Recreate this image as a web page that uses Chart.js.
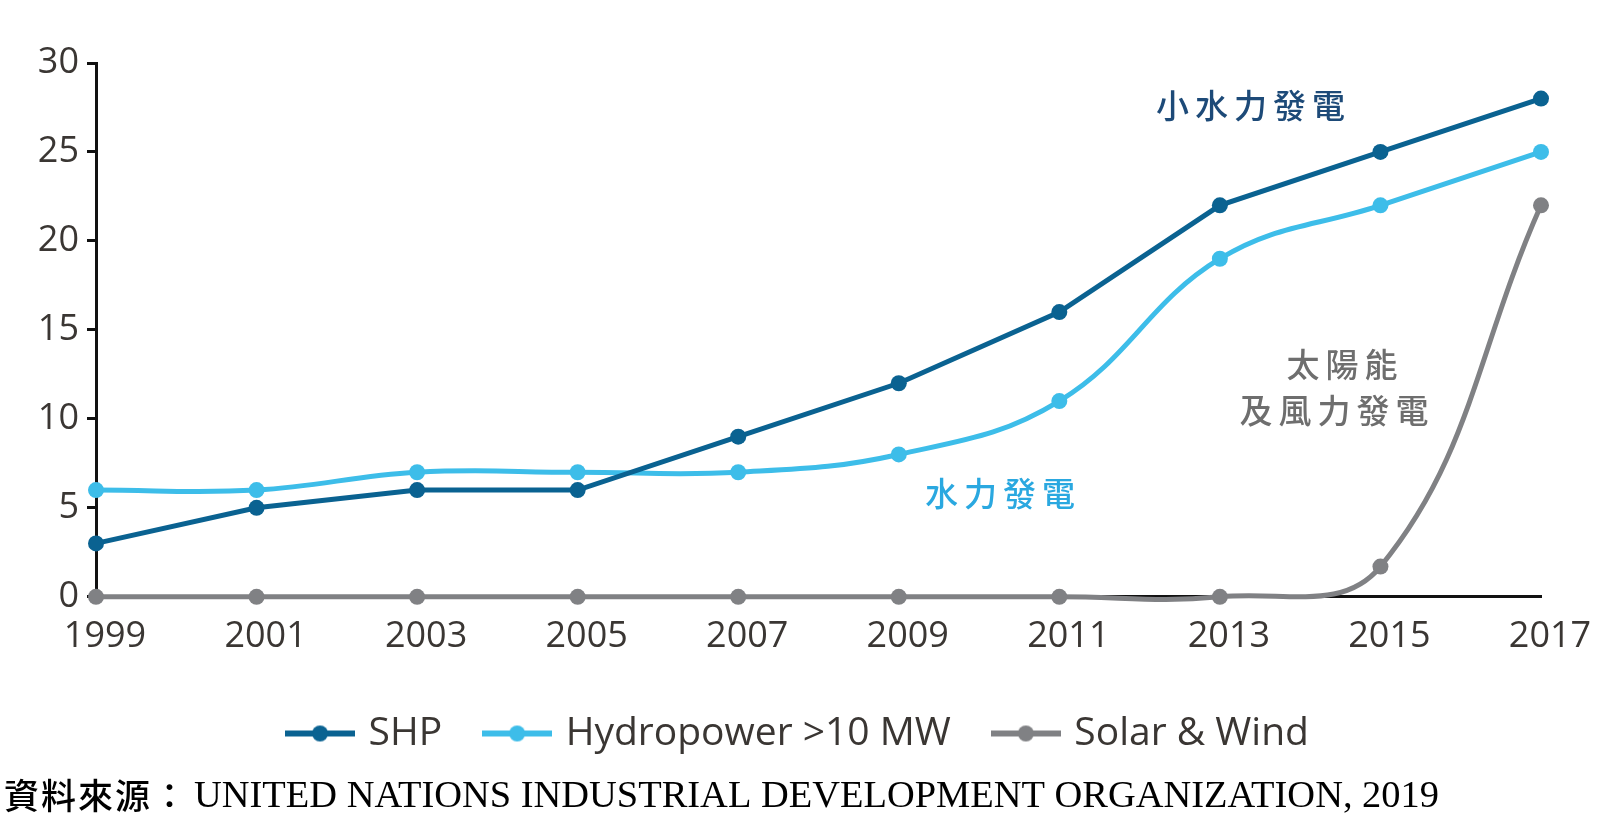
<!DOCTYPE html>
<html>
<head>
<meta charset="utf-8">
<script src="https://cdn.jsdelivr.net/npm/chart.js@4.4.1/dist/chart.umd.min.js"></script>
<style>
  html, body { margin: 0; padding: 0; background: #fff; }
  #wrap { width: 1600px; height: 832px; }
</style>
</head>
<body>
<div id="wrap"><canvas id="chart"></canvas></div>
<script>
const years = ["1999", "2001", "2003", "2005", "2007", "2009", "2011", "2013", "2015", "2017"];
const shp = [3, 5, 6, 6, 9, 12, 16, 22, 25, 28];
const hydro = [6, 6, 7, 7, 7, 8, 11, 19, 22, 25];
const solarWind = [0, 0, 0, 0, 0, 0, 0, 0, 1.7, 22];
const seriesNames = ["SHP", "Hydropower >10 MW", "Solar & Wind"];
const colors = ["#0a6291", "#3dbde9", "#808184"];

const tickColor = "#3a3633";
const sansFont = "'Open Sans', 'Noto Sans', sans-serif";
const cjkFont = "'Noto Sans CJK TC', sans-serif";

// legend sample: line with a dot in the middle
function legendSample(color) {
  const c = document.createElement("canvas");
  c.width = 70;
  c.height = 20;
  const g = c.getContext("2d");
  g.strokeStyle = color;
  g.lineWidth = 6;
  g.beginPath();
  g.moveTo(0, 10);
  g.lineTo(70, 10);
  g.stroke();
  g.fillStyle = color;
  g.beginPath();
  g.arc(35, 10, 8, 0, Math.PI * 2);
  g.fill();
  return c;
}

// Chinese labels next to the lines, placed in data units
const notes = {
  id: "notes",
  afterDraw(chart) {
    const { ctx, scales: { x, y } } = chart;
    const labels = [
      { text: "小水力發電", xv: 7.19, yv: 27.6, color: "#1d4a78" },
      { text: "水力發電", xv: 5.63, yv: 5.8, color: "#2aa8e0" },
      { text: "太陽能", xv: 7.76, yv: 13.05, color: "#6e6e6e" },
      { text: "及風力發電", xv: 7.71, yv: 10.5, color: "#6e6e6e" }
    ];
    ctx.save();
    ctx.font = "500 33px " + cjkFont;
    ctx.textAlign = "center";
    ctx.textBaseline = "middle";
    const step = 39;
    labels.forEach((l) => {
      const cx = x.getPixelForValue(l.xv);
      const cy = y.getPixelForValue(l.yv);
      const chars = [...l.text];
      const start = cx - (chars.length - 1) * step / 2;
      ctx.fillStyle = l.color;
      chars.forEach((ch, i) => ctx.fillText(ch, start + i * step, cy));
    });

    // source line
    ctx.fillStyle = "#000";
    ctx.textAlign = "left";
    ctx.font = "500 35px " + cjkFont;
    const src = "資料來源：";
    [...src].forEach((ch, i) => ctx.fillText(ch, 4 + i * 37, 796));
    ctx.font = "38.5px 'Liberation Serif', 'Times New Roman', serif";
    ctx.fillText("UNITED NATIONS INDUSTRIAL DEVELOPMENT ORGANIZATION, 2019", 194, 797, 1245);
    ctx.restore();
  }
};

const datasets = [shp, hydro, solarWind].map((vals, i) => ({
  label: seriesNames[i],
  data: vals,
  borderColor: colors[i],
  backgroundColor: colors[i],
  pointBackgroundColor: colors[i],
  borderWidth: 5,
  pointRadius: 8,
  pointBorderWidth: 0,
  pointHoverRadius: 8,
  tension: i === 0 ? 0 : 0.4,
  capBezierPoints: false,
  clip: false
}));

const samples = colors.map(legendSample);

new Chart(document.getElementById("chart"), {
  type: "line",
  data: { labels: years, datasets },
  options: {
    responsive: true,
    maintainAspectRatio: false,
    animation: false,
    layout: { padding: { top: 63, right: 0, bottom: 69, left: 0 } },
    plugins: {
      tooltip: { enabled: false },
      legend: {
        position: "bottom",
        labels: {
          usePointStyle: true,
          pointStyleWidth: 58,
          padding: 46,
          color: tickColor,
          font: { family: sansFont, size: 39, weight: "500" },
          generateLabels(chart) {
            return chart.data.datasets.map((ds, i) => ({
              text: ds.label,
              fillStyle: ds.borderColor,
              strokeStyle: ds.borderColor,
              pointStyle: samples[i],
              fontColor: tickColor,
              lineWidth: 0,
              hidden: false,
              datasetIndex: i
            }));
          }
        }
      }
    },
    scales: {
      x: {
        grid: { display: false },
        border: { color: "#111", width: 3 },
        ticks: {
          color: tickColor,
          font: { family: sansFont, size: 36, weight: "500" },
          padding: 10,
          labelOffset: 9,
          maxRotation: 0,
          autoSkip: false
        }
      },
      y: {
        min: 0,
        max: 30,
        afterFit(scale) { scale.width = 96; },
        grid: { display: true, drawOnChartArea: false, drawTicks: true, tickLength: 9, color: "#111", lineWidth: 3 },
        border: { color: "#111", width: 3 },
        ticks: {
          stepSize: 5,
          color: tickColor,
          font: { family: sansFont, size: 36, weight: "500" },
          padding: 8
        }
      },
      // empty right margin so the legend stays centred on the page
      right: {
        position: "right",
        afterFit(scale) { scale.width = 59; },
        grid: { display: false },
        border: { display: false },
        ticks: { display: false }
      }
    }
  },
  plugins: [notes]
});
</script>
</body>
</html>
